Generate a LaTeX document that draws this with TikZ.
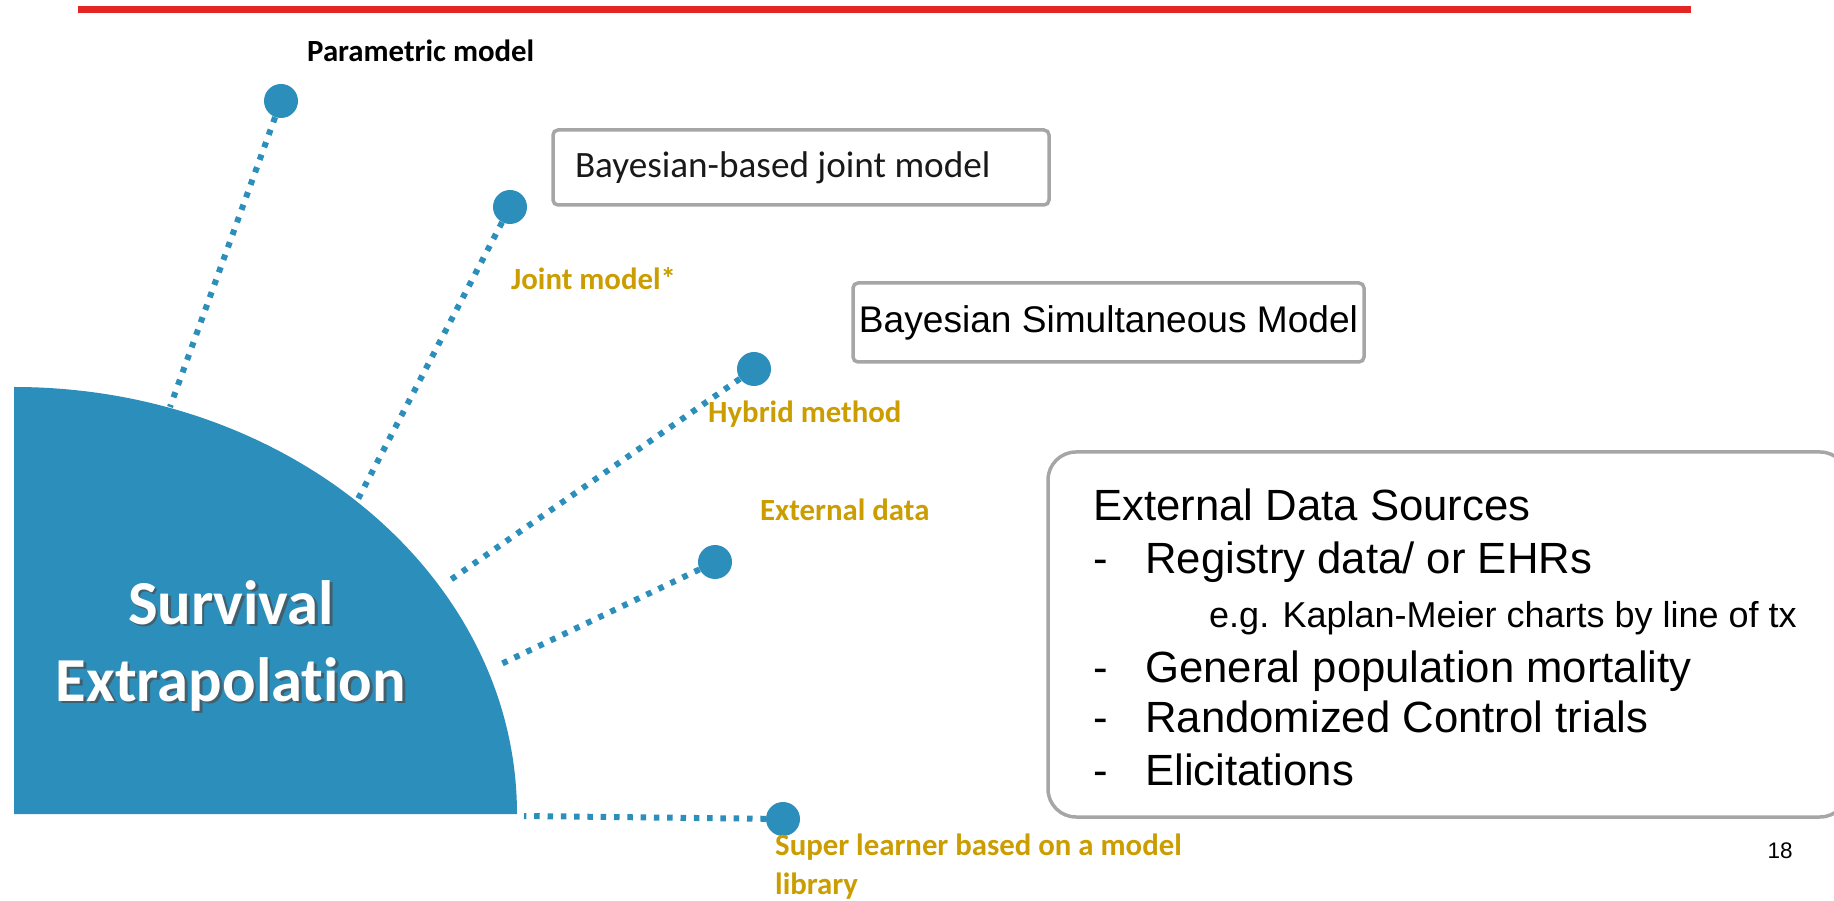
\documentclass[tikz,border=0pt]{standalone}
\usepackage{fontspec}
\setmainfont{Carlito}[Ligatures=NoCommon]
\newfontfamily\arialfont{Liberation Sans}
\definecolor{discblue}{RGB}{44,142,187}
\definecolor{labelgold}{RGB}{203,157,0}
\definecolor{boxgray}{RGB}{166,166,166}
\definecolor{barred}{RGB}{227,38,36}
\newcommand{\dashitem}[1]{\makebox[52pt][l]{-}#1}

\begin{document}
\begin{tikzpicture}[x=1pt,y=1pt,
  dot/.style={circle,fill=discblue,minimum size=34pt,inner sep=0pt},
  dotline/.style={draw=discblue,line width=6pt,dash pattern=on 5.5pt off 7.8pt},
  lbl/.style={anchor=base west,inner sep=0pt,text=labelgold,font=\fontsize{30.8}{39}\selectfont\bfseries},
  srcline/.style={anchor=base west,inner sep=0pt,font=\arialfont\fontsize{43.7}{52}\selectfont},
  titlefont/.style={align=center,inner sep=0pt,font=\fontsize{62.6}{77}\selectfont\bfseries}]
\clip (0,0) rectangle (1834,900);
\fill[barred] (78,887) rectangle (1691,894);
% rays out of the disc
\node[dot] (d1) at (281,799) {};
\node[dot] (d2) at (510,693) {};
\node[dot] (d3) at (754,531) {};
\node[dot] (d4) at (715,338) {};
\node[dot] (d5) at (783,81) {};
\coordinate (e1) at (170,493);
\coordinate (e2) at (357,399);
\coordinate (e3) at (446,317);
\coordinate (e4) at (497,234);
\coordinate (e5) at (524,84);
\draw[dotline] (d1) -- (e1);
\draw[dotline] (d2) -- (e2);
\draw[dotline] (d3) -- (e3);
\draw[dotline] (d4) -- (e4);
\draw[dotline] (d5) -- (e5);
\fill[discblue] (14,86) -- (517,86) arc[start angle=0,end angle=90,x radius=503,y radius=427] -- cycle;
\node[titlefont,text=black!70,opacity=0.7] (titleshadow) at (233.5,252) {Survival\\Extrapolation};
\node[titlefont,text=white] (title) at (231,254.5) {Survival\\Extrapolation};
% labels
\node[anchor=base west,inner sep=0pt,font=\fontsize{30.8}{39}\selectfont\bfseries] (param) at (307,838) {Parametric model};
\node[lbl] (joint) at (511,610) {Joint model*};
\node[lbl] (hybrid) at (708,477) {Hybrid method};
\node[lbl] (ext) at (760,379) {External data};
\node[lbl,align=left,anchor=north west] (super) at (775,66) {Super learner based on a model\\library};
% boxes
\node[draw=boxgray,line width=3.5pt,rounded corners=5pt,minimum width=496pt,minimum height=75pt,
  inner xsep=22pt,text=black!90,font=\fontsize{37.2}{44}\selectfont] (bjm) at (801,732.5) {\makebox[452pt][l]{Bayesian-based joint model}};
\node[draw=boxgray,line width=3.5pt,rounded corners=5pt,minimum width=511pt,minimum height=79pt,
  inner xsep=0pt,font=\arialfont\fontsize{37.1}{44}\selectfont] (bsm) at (1108.5,577.5) {Bayesian Simultaneous Model};
\node[draw=boxgray,line width=3.5pt,rounded corners=28pt,minimum width=800pt,minimum height=365pt] (srcbox) at (1448,265.5) {};
\node[srcline] (src) at (1093,379) {External Data Sources};
\node[srcline] (reg) at (1093,326) {\dashitem{Registry data/ or EHRs}};
\node[srcline,font=\arialfont\fontsize{36}{44}\selectfont] (km) at (1209,272) {e.g. Kaplan-Meier charts by line of tx};
\node[srcline] (gpm) at (1093,217) {\dashitem{General population mortality}};
\node[srcline] (rct) at (1093,167) {\dashitem{Randomized Control trials}};
\node[srcline] (eli) at (1093,114) {\dashitem{Elicitations}};
\node[anchor=base,inner sep=0pt,font=\arialfont\fontsize{22.5}{27}\selectfont] (page) at (1780,42) {18};
\end{tikzpicture}
\end{document}
